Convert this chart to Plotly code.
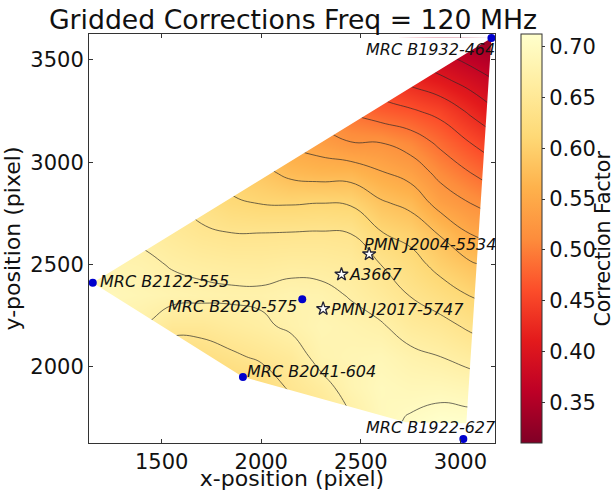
import numpy as np
import plotly.graph_objects as go

# grid
grid_x = [1100, 1250, 1400, 1550, 1700, 1850, 2000, 2150, 2300, 2450, 2600, 2750, 2900, 3050, 3200]
grid_y = [1600, 1750, 1900, 2050, 2200, 2350, 2500, 2650, 2800, 2950, 3100, 3250, 3400, 3550, 3700]
z_columns = [
    [.58, .61, .635, .665, .675, .685, .68, .673, .663, .651, .64, .625, .605, .58, .555],
    [.55, .585, .62, .65, .675, .69, .68, .67, .658, .645, .63, .614, .59, .565, .54],
    [.53, .56, .59, .63, .67, .685, .677, .664, .651, .638, .621, .604, .576, .55, .52],
    [.54, .565, .595, .62, .65, .68, .668, .654, .644, .628, .61, .586, .559, .53, .50],
    [.55, .575, .60, .625, .65, .677, .663, .645, .63, .616, .594, .569, .542, .514, .485],
    [.56, .585, .61, .635, .658, .675, .66, .641, .615, .597, .58, .554, .523, .495, .465],
    [.58, .60, .62, .645, .665, .675, .659, .641, .609, .588, .564, .536, .507, .476, .445],
    [.60, .625, .645, .655, .675, .68, .662, .642, .608, .572, .545, .521, .49, .46, .43],
    [.625, .645, .66, .68, .685, .678, .661, .643, .61, .567, .534, .504, .474, .443, .41],
    [.65, .668, .682, .685, .68, .668, .657, .64, .607, .567, .52, .487, .457, .426, .39],
    [.68, .693, .695, .688, .673, .655, .64, .612, .584, .552, .519, .473, .44, .41, .37],
    [.72, .702, .69, .677, .657, .639, .622, .601, .572, .538, .506, .464, .422, .387, .345],
    [.725, .71, .69, .67, .649, .625, .60, .578, .538, .511, .483, .451, .407, .368, .33],
    [.72, .708, .685, .66, .635, .609, .584, .55, .52, .49, .459, .425, .388, .35, .32],
    [.72, .71, .678, .649, .624, .60, .571, .539, .505, .47, .436, .398, .367, .335, .31],
]
z_rows = np.array(z_columns).T.tolist()

coverage_x = [3156, 3030, 2726, 1908, 1154]
coverage_y = [3608, 1725, 1730, 1951, 2411]

source_names = ["MRC B1932-464", "MRC B2122-555", "MRC B2020-575", "MRC B2041-604", "MRC B1922-627"]
source_x = [3156, 1154, 2206, 1908, 3015]
source_y = [3608, 2411, 2330, 1951, 1648]
source_label_x = [2520, 1185, 1528, 1921, 2520]
source_label_y = [3553, 2416, 2293, 1976, 1702]

star_names = ["PMN J2004-5534", "A3667", "PMN J2017-5747"]
star_x = [2542, 2403, 2311]
star_y = [2551, 2452, 2284]
star_label_x = [2509, 2436, 2345]
star_label_y = [2600, 2452, 2281]

x_range = [1135, 3174]
y_range = [1628, 3627]
x_ticks = [1500, 2000, 2500, 3000]
y_ticks = [2000, 2500, 3000, 3500]
cb_ticks = [0.35, 0.40, 0.45, 0.50, 0.55, 0.60, 0.65, 0.70]
z_min, z_max = 0.31, 0.7125

ylorrd_r = [[0, "rgb(128,0,38)"], [.125, "rgb(189,0,38)"], [.25, "rgb(227,26,28)"],
            [.375, "rgb(252,78,42)"], [.5, "rgb(253,141,60)"], [.625, "rgb(254,178,76)"],
            [.75, "rgb(254,217,118)"], [.875, "rgb(255,237,160)"], [1, "rgb(255,255,204)"]]

FONT = "DejaVu Sans"
L, R, T, B = 89, 495, 34, 443
W, H = 615, 491

fig = go.Figure()
fig.add_trace(go.Heatmap(
    x=grid_x, y=grid_y, z=z_rows, zsmooth="best", zmin=z_min, zmax=z_max,
    colorscale=ylorrd_r, hoverinfo="skip",
    colorbar=dict(
        x=(521 - L) / (R - L), xanchor="left", xpad=0, ypad=0, y=0.5, yanchor="middle",
        len=1, lenmode="fraction", thickness=21, thicknessmode="pixels",
        outlinewidth=1, outlinecolor="#333", tickvals=cb_ticks, tickformat=".2f",
        ticks="outside", ticklen=3, tickcolor="#333",
        tickfont=dict(family=FONT, size=21, color="#111"),
    ),
))
fig.add_trace(go.Contour(
    x=grid_x, y=grid_y, z=z_rows, showscale=False, hoverinfo="skip",
    autocontour=False, contours=dict(start=0.37, end=0.70, size=0.03, coloring="none"),
    line=dict(color="rgba(40,40,40,0.85)", width=0.8, smoothing=1.3),
))
# white mask around the covered region (keyhole polygon, hole wound the other way)
hole_x = [coverage_x[0]] + coverage_x[:0:-1] + [coverage_x[0]]
hole_y = [coverage_y[0]] + coverage_y[:0:-1] + [coverage_y[0]]
mask_x = [x_range[0], x_range[1], x_range[1], x_range[0], x_range[0]] + hole_x + [x_range[0]]
mask_y = [y_range[1], y_range[1], y_range[0], y_range[0], y_range[1]] + hole_y + [y_range[1]]
fig.add_trace(go.Scatter(
    x=mask_x, y=mask_y, mode="lines", fill="toself", fillcolor="white",
    line=dict(width=0, color="white"), hoverinfo="skip", showlegend=False,
))
fig.add_trace(go.Scatter(
    x=source_x, y=source_y, mode="markers", cliponaxis=False, showlegend=False,
    marker=dict(color="#0000cc", size=8, line=dict(width=0)),
))
fig.add_trace(go.Scatter(
    x=star_x, y=star_y, mode="markers", showlegend=False,
    marker=dict(symbol="star", color="white", size=10, line=dict(width=1.3, color="#223")),
))

for name, x, y in zip(source_names + star_names,
                      source_label_x + star_label_x,
                      source_label_y + star_label_y):
    fig.add_annotation(x=x, y=y, text=name, showarrow=False, xanchor="left", yanchor="middle",
                       xshift=-1, font=dict(family=FONT, size=16, style="italic", color="#111"))

fig.add_annotation(xref="paper", yref="paper", x=(602 - L) / (R - L), y=0.5, text="Correction Factor",
                   textangle=-90, showarrow=False, xanchor="center", yanchor="middle",
                   font=dict(family=FONT, size=20.5, color="#111"))

axis = dict(showgrid=False, zeroline=False, showline=True, linecolor="#333", linewidth=1, mirror="ticks",
            ticks="inside", ticklen=4, tickcolor="#333", tickfont=dict(family=FONT, size=21, color="#111"))
fig.update_layout(
    width=W, height=H, margin=dict(l=L, r=W - R, t=T, b=H - B, pad=0, autoexpand=False),
    paper_bgcolor="white", plot_bgcolor="white", showlegend=False,
    title=dict(text="Gridded Corrections Freq = 120 MHz", x=293 / W, xanchor="center",
               y=1 - 20 / H, yanchor="middle", font=dict(family=FONT, size=26.7, color="#111")),
    xaxis=dict(axis, range=x_range, tickvals=x_ticks,
               title=dict(text="x-position (pixel)", standoff=2, font=dict(family=FONT, size=22, color="#111"))),
    yaxis=dict(axis, range=y_range, tickvals=y_ticks,
               title=dict(text="y-position (pixel)", standoff=8, font=dict(family=FONT, size=22, color="#111"))),
)
fig.write_html("out.html", post_script="document.body.style.margin='0';",
               config={"displayModeBar": False})
